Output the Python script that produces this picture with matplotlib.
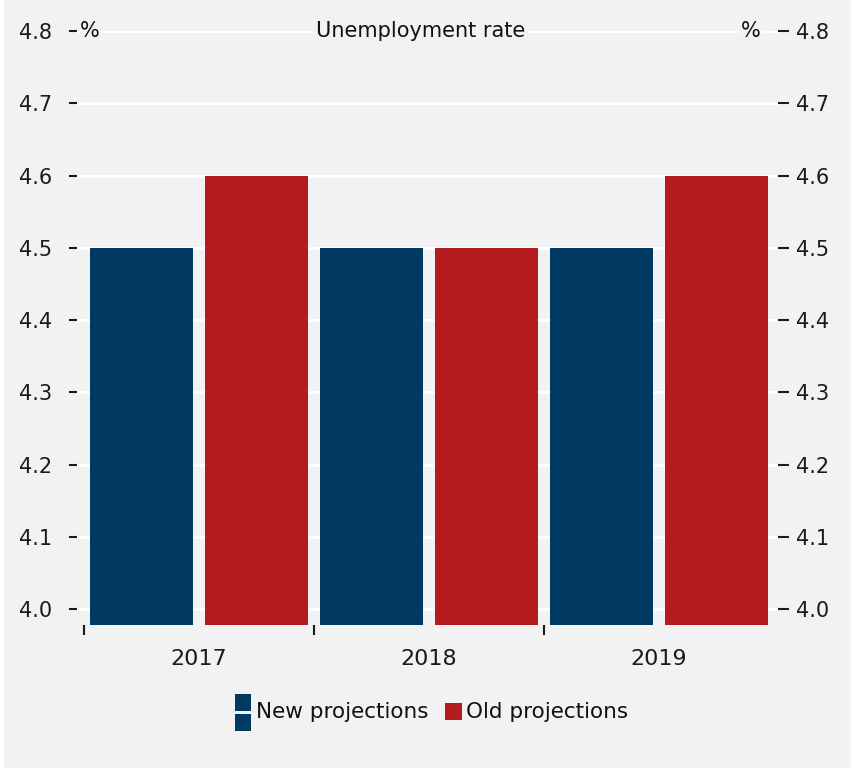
import matplotlib.pyplot as plt
import matplotlib.patches as mpatches
import numpy as np

# Datos del grafico
years = ['2017', '2018', '2019']
new_proj = [4.5, 4.5, 4.5]
old_proj = [4.6, 4.5, 4.6]
yticks = [4.0, 4.1, 4.2, 4.3, 4.4, 4.5, 4.6, 4.7, 4.8]

navy = '#003a63'
red = '#b31b1e'
bg = '#f2f2f2'

plt.rcParams['font.family'] = ['DejaVu Sans']

fig = plt.figure(figsize=(8.54, 7.68), dpi=100, facecolor='white')
fig.add_artist(mpatches.Rectangle((4/854, 0), 847/854, 1, transform=fig.transFigure,
                                  facecolor=bg, edgecolor='none', zorder=0))

W, H = 854, 768
left, right, top, bottom = 77, 778, 31, 625
ax = fig.add_axes([left/W, 1 - bottom/H, (right-left)/W, (bottom-top)/H])
ax.set_facecolor(bg)

ybase = 3.978
x = np.arange(len(years))
bw = 0.448
ax.bar(x - 0.25, np.array(new_proj) - ybase, bw, bottom=ybase, color=navy, zorder=3)
ax.bar(x + 0.25, np.array(old_proj) - ybase, bw, bottom=ybase, color=red, zorder=3)

ax.set_xlim(-0.5 - 7/230, 2.5 + 4/230)
ax.set_ylim(ybase, 4.8)

for s in ax.spines.values():
    s.set_visible(False)

ax.set_yticks(yticks)
ax.set_yticklabels(['%.1f' % v for v in yticks])
ax.yaxis.grid(True, color='white', linewidth=2, zorder=1)
ax.set_axisbelow(True)
ax.tick_params(axis='y', direction='out', length=6, width=1.5, pad=12,
               labelsize=15, colors='#1a1a1a')

ax.set_xticks(x)
ax.set_xticklabels(years)
ax.set_xticks([-0.5, 0.5, 1.5], minor=True)
ax.tick_params(axis='x', which='major', length=0, pad=17, labelsize=16, colors='#1a1a1a')
ax.tick_params(axis='x', which='minor', direction='out', length=7, width=1.5, colors='#1a1a1a')

ax2 = ax.twinx()
ax2.set_ylim(ax.get_ylim())
ax2.set_yticks(yticks)
ax2.set_yticklabels(['%.1f' % v for v in yticks])
for s in ax2.spines.values():
    s.set_visible(False)
ax2.tick_params(axis='y', direction='out', length=8, width=1.5, pad=5,
                labelsize=15, colors='#1a1a1a')

# Titulo y unidades
ax.text(0.965, 4.8, 'Unemployment rate', ha='center', va='center', fontsize=15,
        color='#111111', zorder=5,
        bbox=dict(facecolor=bg, edgecolor='none', pad=2))
ax.text(-0.5 - 4/230, 4.8, '%', ha='left', va='center', fontsize=15, color='#111111',
        zorder=5, bbox=dict(facecolor=bg, edgecolor='none', pad=1))
ax.text(2.5 - 13/230, 4.8, '%', ha='right', va='center', fontsize=15, color='#111111',
        zorder=5, bbox=dict(facecolor=bg, edgecolor='none', pad=1))

# Leyenda manual
def px(xp, yp):
    return xp / W, 1 - yp / H

for y0 in (694, 714):
    fig.add_artist(mpatches.Rectangle(px(235, y0 + 17), 16/W, 17/H,
                                      transform=fig.transFigure, facecolor=navy,
                                      edgecolor='none'))
fig.text(*px(256, 712), 'New projections', ha='left', va='center', fontsize=15.5,
         color='#111111')
fig.add_artist(mpatches.Rectangle(px(445, 720), 17/W, 17/H, transform=fig.transFigure,
                                  facecolor=red, edgecolor='none'))
fig.text(*px(466, 712), 'Old projections', ha='left', va='center', fontsize=15.5,
         color='#111111')

fig.savefig('out.png', dpi=100, facecolor=fig.get_facecolor())
